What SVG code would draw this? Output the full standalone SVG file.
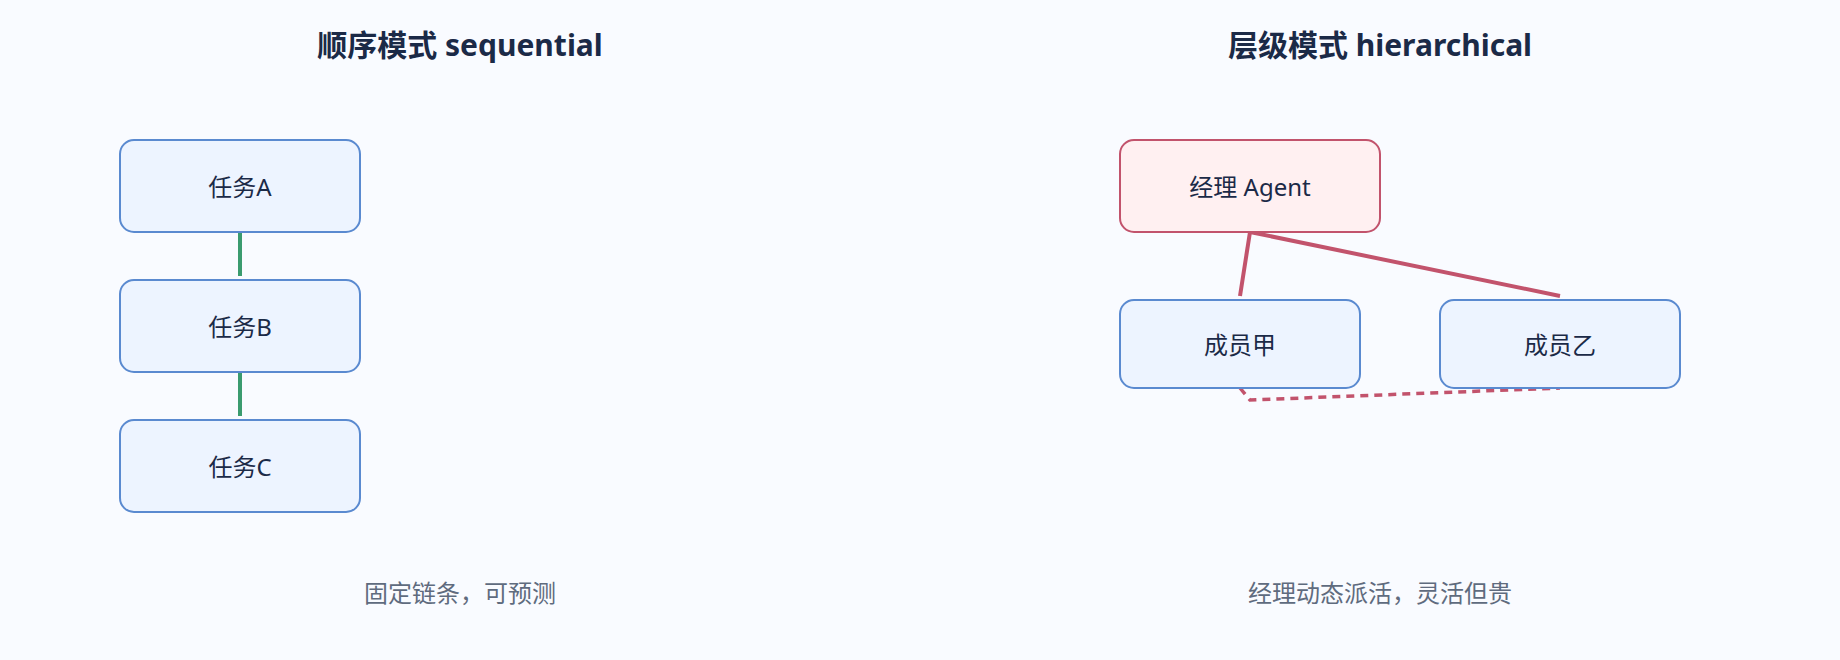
<svg xmlns="http://www.w3.org/2000/svg" width="1840" height="660" viewBox="0 0 1840 660">
  <style>
    text { font-family: "Noto Sans", "Noto Sans CJK SC", sans-serif; text-anchor: middle; dominant-baseline: central; }
    .title { font-size: 30px; font-weight: 700; fill: #1b2a47; }
    .label { font-size: 24px; fill: #1b2a47; }
    .caption { font-size: 24px; fill: #5f6b7e; }
    .task { fill: #edf4ff; stroke: #5a8ad0; stroke-width: 2; }
    .mgr { fill: #fff0f1; stroke: #c2536c; stroke-width: 2; }
    .seq { stroke: #3a9b6f; stroke-width: 4; fill: none; }
    .hier { stroke: #c2536c; stroke-width: 4; fill: none; stroke-linecap: butt; }
    .peer { stroke: #c2536c; stroke-width: 3.5; fill: none; stroke-dasharray: 8 6; }
  </style>
  <rect width="1840" height="660" fill="#f9fbff"/>

  <text class="title" x="460" y="44">顺序模式 sequential</text>
  <text class="title" x="1380" y="44">层级模式 hierarchical</text>

  <g id="connectors">
    <line class="seq" x1="240" y1="232" x2="240" y2="276"/>
    <line class="seq" x1="240" y1="372" x2="240" y2="416"/>
    <line class="hier" x1="1250" y1="232" x2="1240" y2="296"/>
    <line class="hier" x1="1250" y1="232" x2="1560" y2="296"/>
    <polyline class="peer" points="1240,388 1250,400 1560,388"/>
  </g>

  <g id="taskA">
    <rect class="task" x="120" y="140" width="240" height="92" rx="14"/>
    <text class="label" x="240" y="186">任务A</text>
  </g>
  <g id="taskB">
    <rect class="task" x="120" y="280" width="240" height="92" rx="14"/>
    <text class="label" x="240" y="326">任务B</text>
  </g>
  <g id="taskC">
    <rect class="task" x="120" y="420" width="240" height="92" rx="14"/>
    <text class="label" x="240" y="466">任务C</text>
  </g>

  <g id="manager">
    <rect class="mgr" x="1120" y="140" width="260" height="92" rx="14"/>
    <text class="label" x="1250" y="186">经理 Agent</text>
  </g>
  <g id="memberJia">
    <rect class="task" x="1120" y="300" width="240" height="88" rx="14"/>
    <text class="label" x="1240" y="344">成员甲</text>
  </g>
  <g id="memberYi">
    <rect class="task" x="1440" y="300" width="240" height="88" rx="14"/>
    <text class="label" x="1560" y="344">成员乙</text>
  </g>

  <text class="caption" x="460" y="592">固定链条，可预测</text>
  <text class="caption" x="1380" y="592">经理动态派活，灵活但贵</text>
</svg>
